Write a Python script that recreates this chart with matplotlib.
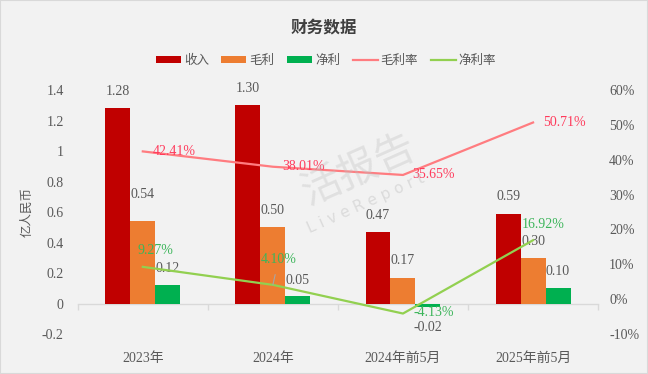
import numpy as np
import matplotlib
matplotlib.use("Agg")
import matplotlib.pyplot as plt
from matplotlib.patches import Rectangle

plt.rcParams['font.family'] = ['Liberation Serif', 'Noto Sans CJK SC', 'DejaVu Sans']

# data
categories = ["2023年", "2024年", "2024年前5月", "2025年前5月"]
revenue = [1.28, 1.30, 0.47, 0.59]
gross_profit = [0.54, 0.50, 0.17, 0.30]
net_profit = [0.12, 0.05, -0.02, 0.10]
gross_margin = [42.41, 38.01, 35.65, 50.71]
net_margin = [9.27, 4.10, -4.13, 16.92]

# colours
c_rev = "#c00000"
c_gp = "#ed7d31"
c_np = "#00b050"
c_gm = "#ff7c80"
c_nm = "#92d050"
c_text = "#595959"

fig = plt.figure(figsize=(6.48, 3.74), dpi=100)
fig.patch.set_facecolor("#f2f2f2")
fig.patches.append(Rectangle((0, 0), 1, 1, transform=fig.transFigure, fill=False,
                             edgecolor="#d9d9d9", linewidth=1.5))

ax = fig.add_axes([0.120, 0.107, 0.803, 0.652])
ax.set_facecolor("#f2f2f2")
ax2 = ax.twinx()

x = np.arange(len(categories))
w = 0.192
b1 = ax.bar(x - w, revenue, w, color=c_rev, label="收入", zorder=2)
b2 = ax.bar(x, gross_profit, w, color=c_gp, label="毛利", zorder=2)
b3 = ax.bar(x + w, net_profit, w, color=c_np, label="净利", zorder=2)

ax.set_xlim(-0.5, len(categories) - 0.5)
ax.set_ylim(-0.2, 1.4)
ax.set_yticks(np.arange(-0.2, 1.41, 0.2))
ax.set_yticklabels(["-0.2", "0", "0.2", "0.4", "0.6", "0.8", "1", "1.2", "1.4"])
ax.set_xticks(x)
ax.set_xticklabels(categories)
ax.tick_params(axis='x', length=0, pad=13, labelsize=10, labelcolor=c_text)
ax.tick_params(axis='y', length=0, pad=10, labelsize=10, labelcolor=c_text)
for s in ax.spines.values():
    s.set_visible(False)

# category axis at zero with ticks at the boundaries
sec = ax.secondary_xaxis(0.2 / 1.6)
sec.set_xticks(np.arange(-0.5, len(categories), 1.0))
sec.set_xticklabels([])
sec.tick_params(length=4, color="#d9d9d9", width=1)
sec.spines['bottom'].set_color("#d9d9d9")
sec.spines['bottom'].set_linewidth(1)

ax.set_ylabel("亿人民币", fontsize=9, color=c_text, labelpad=6)

# lines
l1, = ax2.plot(x, gross_margin, color=c_gm, lw=1.6, label="毛利率", zorder=3)
l2, = ax2.plot(x, net_margin, color=c_nm, lw=1.6, label="净利率", zorder=3)
ax2.set_ylim(-10, 60)
ax2.set_yticks(np.arange(-10, 61, 10))
ax2.set_yticklabels([f"{v}%" for v in range(-10, 61, 10)])
ax2.tick_params(axis='y', length=0, pad=8, labelsize=10, labelcolor=c_text)
for s in ax2.spines.values():
    s.set_visible(False)

# bar labels
bar_off = {"rev": [12, 12, 12, 12], "gp": [19, 12, 12, 12], "np": [12, 11, -15, 12]}
for bars, vals, key in [(b1, revenue, "rev"), (b2, gross_profit, "gp"), (b3, net_profit, "np")]:
    for rect, v, off in zip(bars, vals, bar_off[key]):
        ax.annotate(f"{v:.2f}", (rect.get_x() + rect.get_width() / 2, v),
                    xytext=(0, off), textcoords="offset points", ha="center", va="center",
                    fontsize=10, color=c_text, zorder=5)

# line labels
for xi, v in zip(x, gross_margin):
    ax2.annotate(f"{v:.2f}%", (xi, v), xytext=(7, 0), textcoords="offset points",
                 ha="left", va="center", fontsize=10, color="#ff3b5c", zorder=5)

nm_off = [(9, 12), (4, 18), (22, 1), (7, 11)]
for i, (xi, v) in enumerate(zip(x, net_margin)):
    kw = {}
    if i == 1:
        kw["arrowprops"] = dict(arrowstyle="-", color="#a6a6a6", lw=0.8, shrinkA=4, shrinkB=0)
    ax2.annotate(f"{v:.2f}%", (xi, v), xytext=nm_off[i], textcoords="offset points",
                 ha="center", va="center", fontsize=10, color="#3cb55a", zorder=5, **kw)

# watermark
fig.text(0.555, 0.54, "活报告", fontsize=29, color="#bfbfbf", alpha=0.35, rotation=24,
         ha="center", va="center", zorder=10)
fig.text(0.565, 0.455, "L i v e R e p o r t", fontsize=11, color="#bfbfbf", alpha=0.45,
         rotation=24, ha="center", va="center", family=["DejaVu Sans"], zorder=10)

# title and legend
fig.text(0.5, 0.925, "财务数据", fontsize=12, fontweight="bold", color="#404040",
         ha="center", va="center")
fig.legend([b1, b2, b3, l1, l2], ["收入", "毛利", "净利", "毛利率", "净利率"],
           loc="center", bbox_to_anchor=(0.503, 0.837), ncol=5, frameon=False,
           fontsize=9, labelcolor=c_text, handlelength=2.0, handleheight=0.55,
           handletextpad=0.25, columnspacing=1.0)

fig.savefig("out.png", dpi=100, facecolor=fig.get_facecolor())
